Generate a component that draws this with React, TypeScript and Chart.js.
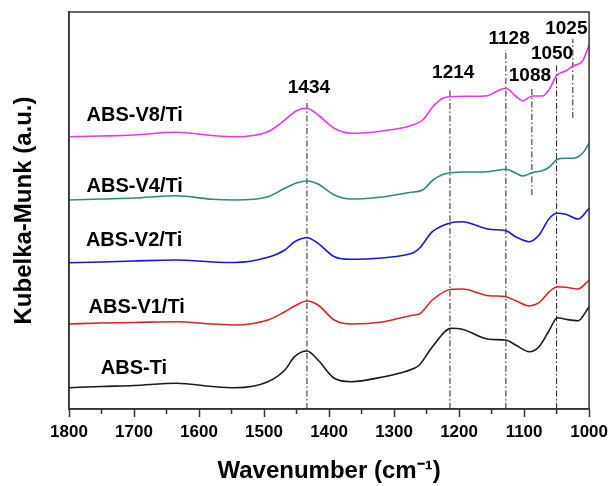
import React, { useEffect, useRef } from 'react';
import { Chart, registerables } from 'chart.js';

Chart.register(...registerables);

// Wavenumbers (cm-1) for the two upper spectra
const wnUpper = [1800, 1750, 1700, 1635, 1580, 1545, 1494, 1468, 1450, 1434, 1417, 1392, 1366, 1315, 1276, 1256, 1240, 1225, 1213, 1184, 1156, 1143, 1128, 1113, 1102, 1087, 1072, 1061, 1050, 1036, 1025, 1010, 1000];
const kmV8 = [2.723, 2.73, 2.74, 2.767, 2.735, 2.723, 2.773, 2.89, 2.983, 3.007, 2.94, 2.807, 2.757, 2.783, 2.83, 2.89, 3.025, 3.107, 3.123, 3.127, 3.133, 3.173, 3.207, 3.13, 3.083, 3.13, 3.13, 3.2, 3.335, 3.38, 3.43, 3.48, 3.64];
const kmV4 = [2.09, 2.1, 2.11, 2.133, 2.097, 2.09, 2.123, 2.207, 2.26, 2.28, 2.25, 2.14, 2.1, 2.123, 2.165, 2.19, 2.29, 2.345, 2.363, 2.37, 2.373, 2.385, 2.397, 2.36, 2.33, 2.365, 2.383, 2.42, 2.493, 2.507, 2.507, 2.557, 2.657];

// Wavenumbers (cm-1) for the three lower spectra
const wnLower = [1800, 1750, 1700, 1635, 1580, 1545, 1494, 1468, 1453, 1434, 1417, 1392, 1366, 1315, 1292, 1269, 1261, 1241, 1212, 1195, 1154, 1128, 1113, 1092, 1077, 1061, 1049, 1036, 1017, 1000];
const kmV2 = [1.463, 1.47, 1.48, 1.49, 1.47, 1.465, 1.517, 1.59, 1.673, 1.713, 1.657, 1.523, 1.497, 1.513, 1.53, 1.567, 1.607, 1.773, 1.863, 1.873, 1.797, 1.783, 1.723, 1.673, 1.74, 1.907, 1.957, 1.947, 1.9, 2.007];
const kmV1 = [0.85, 0.86, 0.865, 0.873, 0.85, 0.84, 0.89, 0.973, 1.03, 1.08, 1.04, 0.89, 0.85, 0.873, 0.907, 0.94, 0.95, 1.09, 1.197, 1.2, 1.133, 1.123, 1.083, 1.03, 1.063, 1.173, 1.223, 1.217, 1.2, 1.29];
const kmTi = [0.213, 0.225, 0.235, 0.257, 0.225, 0.213, 0.273, 0.39, 0.523, 0.58, 0.49, 0.307, 0.273, 0.323, 0.357, 0.407, 0.44, 0.623, 0.807, 0.797, 0.697, 0.69, 0.64, 0.573, 0.623, 0.79, 0.913, 0.897, 0.883, 1.023];

const seriesNames = ['ABS-V8/Ti', 'ABS-V4/Ti', 'ABS-V2/Ti', 'ABS-V1/Ti', 'ABS-Ti'];
const seriesColors = ['#ee33ee', '#2a8a80', '#1515f0', '#e42020', '#1a1a1a'];
const seriesLabelWn = [1773, 1773, 1774, 1770, 1751];
const seriesLabelKm = [2.94, 2.23, 1.69, 1.02, 0.41];

// Band markers
const peakWn = [1434, 1214, 1128, 1088, 1050, 1025];
const peakLineTop = [3.09, 3.21, 3.59, 3.2, 3.46, 3.7];
const peakLineBottom = [0, 0, 0, 2.14, 0, 2.91];
const peakLabelWn = [1431, 1209, 1123, 1091, 1057, 1035];
const peakLabelKm = [3.215, 3.365, 3.7, 3.33, 3.55, 3.8];

const xMin = 1000;
const xMax = 1800;
const xStep = 100;
const minorTicks = [1750, 1650, 1550, 1450, 1350, 1250, 1150, 1050];
const yMin = 0;
const yMax = 3.97;

const FONT = '"Liberation Sans", Arial, Helvetica, sans-serif';

const annotationPlugin = {
  id: 'annotations',
  afterDraw(chart: any) {
    const { ctx, chartArea } = chart;
    const xs = chart.scales.x;
    const ys = chart.scales.y;
    ctx.save();
    ctx.strokeStyle = '#333';
    ctx.lineWidth = 1.5;
    ctx.strokeRect(chartArea.left, chartArea.top, chartArea.right - chartArea.left, chartArea.bottom - chartArea.top);
    minorTicks.forEach((v) => {
      const px = xs.getPixelForValue(v);
      ctx.beginPath();
      ctx.moveTo(px, chartArea.bottom);
      ctx.lineTo(px, chartArea.bottom + 5);
      ctx.stroke();
    });
    ctx.fillStyle = '#000';
    ctx.textBaseline = 'middle';
    ctx.textAlign = 'left';
    ctx.font = `bold 20px ${FONT}`;
    seriesNames.forEach((name, i) => {
      ctx.fillText(name, xs.getPixelForValue(seriesLabelWn[i]), ys.getPixelForValue(seriesLabelKm[i]));
    });
    ctx.textAlign = 'center';
    ctx.font = `bold 19px ${FONT}`;
    peakWn.forEach((p, i) => {
      ctx.fillText(String(p), xs.getPixelForValue(peakLabelWn[i]), ys.getPixelForValue(peakLabelKm[i]));
    });
    ctx.restore();
  },
};

export default function App() {
  const ref = useRef<HTMLCanvasElement | null>(null);
  useEffect(() => {
    if (!ref.current) return;
    const curveData = [
      wnUpper.map((x, i) => ({ x, y: kmV8[i] })),
      wnUpper.map((x, i) => ({ x, y: kmV4[i] })),
      wnLower.map((x, i) => ({ x, y: kmV2[i] })),
      wnLower.map((x, i) => ({ x, y: kmV1[i] })),
      wnLower.map((x, i) => ({ x, y: kmTi[i] })),
    ];
    const curveSets = seriesNames.map((name, i) => ({
      label: name,
      data: curveData[i],
      borderColor: seriesColors[i],
      backgroundColor: seriesColors[i],
      borderWidth: 1.6,
      pointRadius: 0,
      cubicInterpolationMode: 'monotone' as const,
      fill: false,
    }));
    const lineSets = peakWn.map((p, i) => ({
      label: `${p}`,
      data: [
        { x: p, y: peakLineBottom[i] },
        { x: p, y: peakLineTop[i] },
      ],
      borderColor: '#222',
      borderWidth: 1,
      borderDash: [6, 2.5, 1.5, 2.5],
      pointRadius: 0,
      fill: false,
    }));
    const chart = new Chart(ref.current, {
      type: 'line',
      data: { datasets: [...curveSets, ...lineSets] as any },
      options: {
        animation: false,
        responsive: true,
        maintainAspectRatio: false,
        layout: { padding: { top: 12, right: 23, left: 0, bottom: 0 } },
        plugins: { legend: { display: false }, tooltip: { enabled: false } },
        scales: {
          x: {
            type: 'linear',
            reverse: true,
            min: xMin,
            max: xMax,
            afterFit: (s: any) => {
              s.height = 77;
            },
            ticks: {
              stepSize: xStep,
              color: '#000',
              padding: 5,
              maxRotation: 0,
              autoSkip: false,
              callback: (v: any) => String(v),
              font: { family: FONT, size: 17, weight: 'bold' },
            },
            grid: {
              display: true,
              drawOnChartArea: false,
              drawTicks: true,
              tickLength: 8,
              tickColor: '#333',
              tickWidth: 1.5,
            },
            border: { display: true, color: '#333', width: 1.5 },
            title: {
              display: true,
              text: 'Wavenumber (cm\u207B\u00B9)',
              color: '#000',
              font: { family: FONT, size: 24, weight: 'bold' },
              padding: { top: 0, bottom: 0 },
            },
          },
          y: {
            type: 'linear',
            min: yMin,
            max: yMax,
            afterFit: (s: any) => {
              s.width = 69;
            },
            ticks: { display: false },
            grid: { display: false },
            border: { display: true, color: '#333', width: 1.5 },
            title: {
              display: true,
              text: 'Kubelka-Munk (a.u.)',
              color: '#000',
              font: { family: FONT, size: 24, weight: 'bold' },
              padding: { top: 10, bottom: 0 },
            },
          },
        },
      },
      plugins: [annotationPlugin],
    });
    return () => chart.destroy();
  }, []);
  return (
    <div style={{ position: 'fixed', left: 0, top: 0, width: 613, height: 486, background: '#fff' }}>
      <canvas ref={ref} />
    </div>
  );
}
